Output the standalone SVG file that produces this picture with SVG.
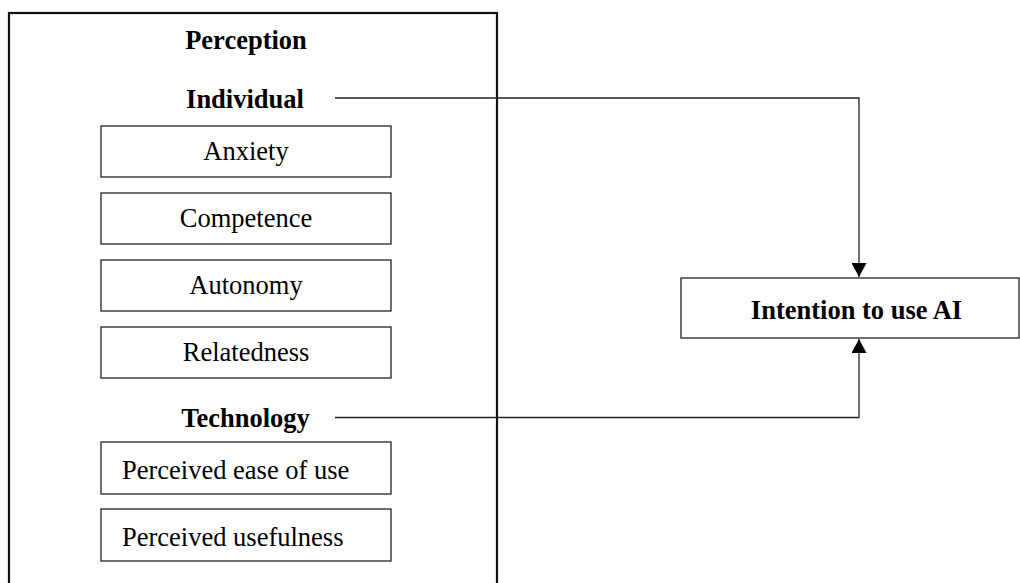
<svg xmlns="http://www.w3.org/2000/svg" width="1020" height="583" viewBox="0 0 1020 583">
<defs>
<style>
.t{font-family:"Liberation Serif","Times New Roman",serif;font-size:26.5px;fill:#000}
.b{font-weight:bold}
.box{fill:#fff;stroke:#222;stroke-width:1.3}
.ln{fill:none;stroke:#222;stroke-width:1.3}
</style>
<marker id="ah" viewBox="0 0 14 15" refX="14" refY="7.5" markerWidth="14" markerHeight="15" markerUnits="userSpaceOnUse" orient="auto">
<path d="M0,0 L14,7.5 L0,15 Z" fill="#000"/>
</marker>
</defs>
<rect width="1020" height="583" fill="#fff"/>
<g id="perception">
<rect x="9" y="13" width="488" height="590" fill="#fff" stroke="#111" stroke-width="2.2"/>
<text class="t b" x="246" y="49" text-anchor="middle">Perception</text>
<text class="t b" x="245" y="108" text-anchor="middle">Individual</text>
<text class="t b" x="245.5" y="427" text-anchor="middle">Technology</text>
</g>
<g id="anxiety"><rect class="box" x="101" y="126" width="290" height="51"/><text class="t" x="246" y="159.5" text-anchor="middle">Anxiety</text></g>
<g id="competence"><rect class="box" x="101" y="193" width="290" height="51"/><text class="t" x="246" y="226.5" text-anchor="middle">Competence</text></g>
<g id="autonomy"><rect class="box" x="101" y="260" width="290" height="51"/><text class="t" x="246" y="293.5" text-anchor="middle">Autonomy</text></g>
<g id="relatedness"><rect class="box" x="101" y="327" width="290" height="51"/><text class="t" x="246" y="360.5" text-anchor="middle">Relatedness</text></g>
<g id="ease"><rect class="box" x="101" y="442" width="290" height="52"/><text class="t" x="122" y="479">Perceived ease of use</text></g>
<g id="usefulness"><rect class="box" x="101" y="509" width="290" height="52"/><text class="t" x="122" y="546">Perceived usefulness</text></g>
<g id="intention"><rect class="box" x="681" y="278" width="338" height="60"/><text class="t b" x="856.5" y="319" text-anchor="middle">Intention to use AI</text></g>
<g id="connectors">
<path class="ln" d="M335,98 H859 V277" marker-end="url(#ah)"/>
<path class="ln" d="M335,417.5 H859 V339" marker-end="url(#ah)"/>
</g>
</svg>
